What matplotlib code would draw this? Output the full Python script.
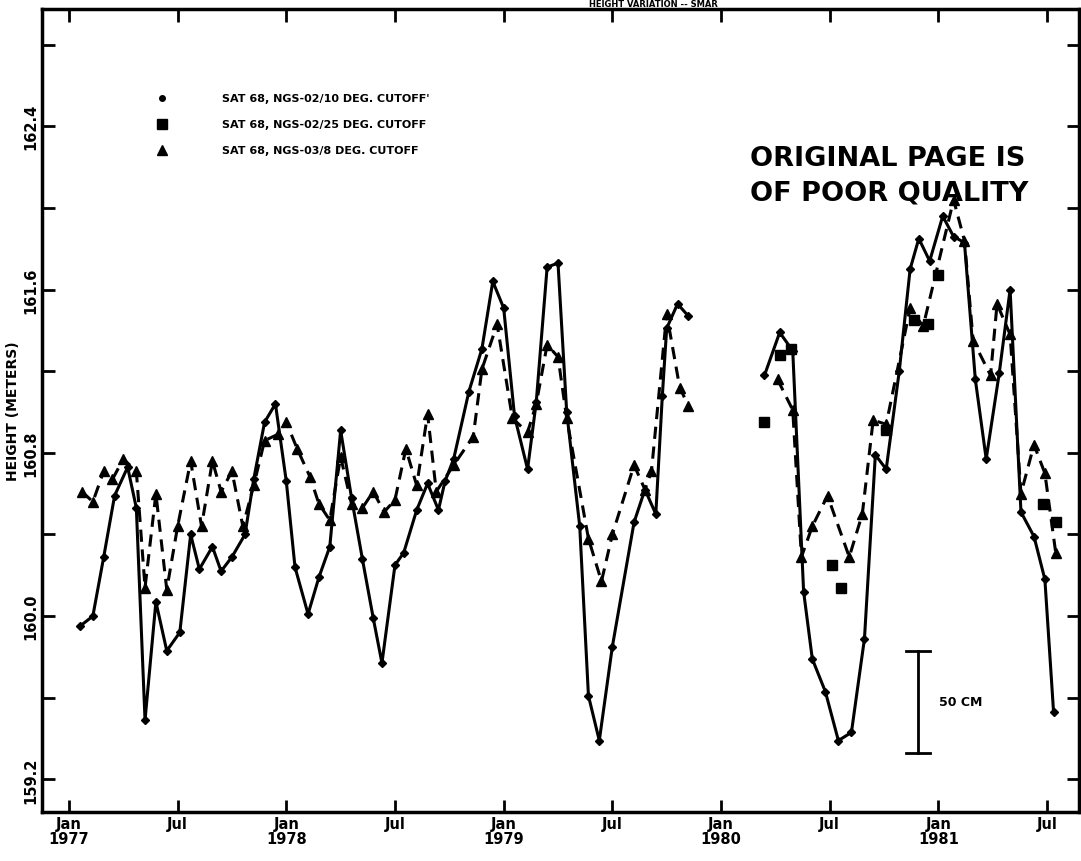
import numpy as np
import matplotlib
matplotlib.use("Agg")
import matplotlib.pyplot as plt

nan = np.nan

# SAT 68, NGS-02/10 deg cutoff (solid line, dots)
s1_year = [1977.05, 1977.11, 1977.16, 1977.21, 1977.27, 1977.31, 1977.35, 1977.40, 1977.45, 1977.51,
           1977.56, 1977.60, 1977.66, 1977.70, 1977.75, 1977.81, 1977.85, 1977.90, 1977.95, 1978.00,
           1978.04, 1978.10, 1978.15, 1978.20, 1978.25, 1978.30, 1978.35, 1978.40, 1978.44, 1978.50,
           1978.54, 1978.60, 1978.65, 1978.70, 1978.73, 1978.77, 1978.84, 1978.90, 1978.95, 1979.00,
           1979.05, 1979.11, 1979.15, 1979.20, 1979.25, 1979.29, 1979.35, 1979.39, 1979.44, 1979.50,
           1979.60, 1979.65, 1979.70, 1979.73, 1979.75, 1979.80, 1979.85,
           nan,
           1980.20, 1980.27, 1980.33, 1980.38, 1980.42, 1980.48, 1980.54, 1980.60, 1980.66, 1980.71,
           1980.76, 1980.82, 1980.87, 1980.91, 1980.96, 1981.02, 1981.07, 1981.12, 1981.17, 1981.22,
           1981.28, 1981.33, 1981.38, 1981.44, 1981.49, 1981.53]
s1_height = [159.95, 160.00, 160.29, 160.59, 160.73, 160.53, 159.49, 160.07, 159.83, 159.92,
             160.40, 160.23, 160.34, 160.22, 160.29, 160.40, 160.67, 160.95, 161.04, 160.66,
             160.24, 160.01, 160.19, 160.34, 160.91, 160.58, 160.28, 159.99, 159.77, 160.25,
             160.31, 160.52, 160.65, 160.52, 160.66, 160.77, 161.10, 161.31, 161.64, 161.51,
             160.98, 160.72, 161.05, 161.71, 161.73, 161.00, 160.44, 159.61, 159.39, 159.85,
             160.46, 160.62, 160.50, 161.08, 161.41, 161.53, 161.47,
             nan,
             161.18, 161.39, 161.30, 160.12, 159.79, 159.63, 159.39, 159.43, 159.89, 160.79,
             160.72, 161.20, 161.70, 161.85, 161.74, 161.96, 161.86, 161.83, 161.16, 160.77,
             161.19, 161.60, 160.51, 160.39, 160.18, 159.53]

# SAT 68, NGS-02/25 deg cutoff (squares)
s2_year = [1980.20, 1980.27, 1980.32, 1980.51, 1980.55, 1980.76, 1980.89, 1980.95, 1981.00,
           1981.48, 1981.54]
s2_height = [160.95, 161.28, 161.31, 160.25, 160.14, 160.91, 161.45, 161.43, 161.67,
             160.55, 160.46]

# SAT 68, NGS-03/8 deg cutoff (dashed line, triangles)
s3_year = [1977.06, 1977.11, 1977.16, 1977.20, 1977.25, 1977.31, 1977.35, 1977.40, 1977.45, 1977.50,
           1977.56, 1977.61, 1977.66, 1977.70, 1977.75, 1977.80, 1977.85, 1977.90, 1977.96, 1978.00,
           1978.05, 1978.11, 1978.15, 1978.20, 1978.25, 1978.30, 1978.35, 1978.40, 1978.45, 1978.50,
           1978.55, 1978.60, 1978.65, 1978.69, 1978.77, 1978.86, 1978.90, 1978.97, 1979.04, 1979.11,
           1979.15, 1979.20, 1979.25, 1979.29, 1979.39, 1979.45, 1979.50, 1979.60, 1979.65, 1979.68,
           1979.75, 1979.81, 1979.85,
           nan,
           1980.26, 1980.33, 1980.37, 1980.42, 1980.49, 1980.59, 1980.65, 1980.70, 1980.76, 1980.87,
           1980.93, 1981.07, 1981.12, 1981.16, 1981.24, 1981.27, 1981.33, 1981.38, 1981.44, 1981.49,
           1981.54]
s3_height = [160.61, 160.56, 160.71, 160.67, 160.77, 160.71, 160.14, 160.60, 160.13, 160.44,
             160.76, 160.44, 160.76, 160.61, 160.71, 160.44, 160.64, 160.86, 160.89, 160.95,
             160.82, 160.68, 160.55, 160.47, 160.78, 160.55, 160.53, 160.61, 160.51, 160.57,
             160.82, 160.64, 160.99, 160.61, 160.74, 160.88, 161.21, 161.43, 160.97, 160.90,
             161.04, 161.33, 161.27, 160.97, 160.38, 160.17, 160.40, 160.74, 160.62, 160.71,
             161.48, 161.12, 161.03,
             nan,
             161.16, 161.01, 160.29, 160.44, 160.59, 160.29, 160.50, 160.96, 160.94, 161.51,
             161.42, 162.04, 161.84, 161.35, 161.18, 161.53, 161.38, 160.60, 160.84, 160.70,
             160.31]

legend_labels = ["SAT 68, NGS-02/10 DEG. CUTOFF'",
                 "SAT 68, NGS-02/25 DEG. CUTOFF",
                 "SAT 68, NGS-03/8 DEG. CUTOFF"]

x_ticks = [1977.0 + 0.5 * i for i in range(10)]
x_ticklabels = ["Jan\n1977", "Jul", "Jan\n1978", "Jul", "Jan\n1979", "Jul",
                "Jan\n1980", "Jul", "Jan\n1981", "Jul"]
y_ticks = [159.2, 159.6, 160.0, 160.4, 160.8, 161.2, 161.6, 162.0, 162.4, 162.8]
y_ticklabels = ["159.2", "", "160.0", "", "160.8", "", "161.6", "", "162.4", ""]

scale_bar_cm = 50
scale_bar_base = 159.33
scale_bar_year = 1980.907

plt.rcParams["font.family"] = ["DejaVu Sans"]
plt.rcParams["font.weight"] = "bold"

fig = plt.figure(figsize=(10.81, 8.62), dpi=100)
ax = fig.add_axes([42 / 1081, 49 / 862, 1037 / 1081, 803 / 862])

ax.plot(s1_year, s1_height, "-", color="black", lw=2.2, marker="D", ms=4, zorder=3)
ax.plot(s3_year, s3_height, color="black", lw=2.2, ls=(0, (4, 2.5)), marker="^", ms=7, zorder=3)
ax.plot(s2_year, s2_height, ls="none", color="black", marker="s", ms=6.5, zorder=4)

ax.set_xlim(1976.876, 1981.647)
ax.set_ylim(159.04, 162.975)

ax.set_xticks(x_ticks)
ax.set_xticklabels(x_ticklabels, fontsize=10.5, fontweight="bold", linespacing=0.95)
ax.set_yticks(y_ticks)
ax.set_yticklabels(y_ticklabels, fontsize=10.5, fontweight="bold", rotation=90, va="center")
ax.tick_params(direction="in", length=9, width=2, top=True, right=True, pad=3)
for s in ax.spines.values():
    s.set_linewidth(2.5)

ax.set_ylabel("HEIGHT (METERS)", fontsize=10, fontweight="bold", labelpad=2)

# hand-drawn legend
markers = ["o", "s", "^"]
sizes = [4, 6.5, 7]
rows = [0.889, 0.857, 0.824]
for m, sz, r, lab in zip(markers, sizes, rows, legend_labels):
    ax.plot([0.1157], [r], marker=m, ms=sz, color="black", transform=ax.transAxes, clip_on=False)
    ax.text(0.1736, r, lab, transform=ax.transAxes, fontsize=8, fontweight="bold", va="center")

ax.text(0.683, 0.814, "ORIGINAL PAGE IS", transform=ax.transAxes, fontsize=19.5,
        fontweight="bold", va="center")
ax.text(0.683, 0.771, "OF POOR QUALITY", transform=ax.transAxes, fontsize=19.5,
        fontweight="bold", va="center")

# 50 cm scale bar
top = scale_bar_base + scale_bar_cm / 100
ax.plot([scale_bar_year, scale_bar_year], [scale_bar_base, top], color="black", lw=2)
for yy in (scale_bar_base, top):
    ax.plot([scale_bar_year - 0.055, scale_bar_year + 0.055], [yy, yy], color="black", lw=2)
ax.text(scale_bar_year + 0.095, (scale_bar_base + top) / 2, f"{scale_bar_cm} CM",
        fontsize=9, fontweight="bold", va="center")

fig.text(0.545, 0.9995, "HEIGHT VARIATION -- SMAR", fontsize=6, fontweight="bold", va="top")

fig.savefig("out.png", dpi=100)
